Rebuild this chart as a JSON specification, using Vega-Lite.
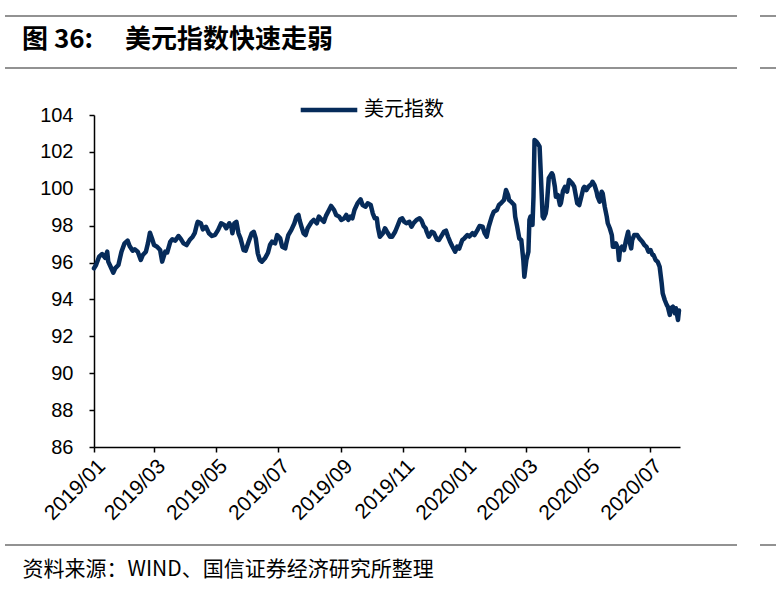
{
  "$schema": "https://vega.github.io/schema/vega-lite/v6.json",
  "width": 586,
  "height": 332,
  "autosize": {"type": "none"},
  "padding": {"left": 94, "top": 115, "right": 96, "bottom": 148},
  "background": "white",
  "config": {"view": {"stroke": null}, "font": "Liberation Sans"},
  "title": {
    "text": "图 36:　 美元指数快速走弱",
    "anchor": "start",
    "frame": "group",
    "font": "Noto Sans CJK SC",
    "fontSize": 26,
    "fontWeight": "bold",
    "color": "#000000",
    "dx": -72,
    "offset": 0,
    "dy": 59,
    "baseline": "alphabetic"
  },
  "data": {"values": [
    {"date":"2019/01/01","value":95.69},{"date":"2019/01/03","value":95.87},{"date":"2019/01/06","value":96.32},{"date":"2019/01/09","value":96.46},{"date":"2019/01/12","value":96.25},{"date":"2019/01/14","value":96.59},{"date":"2019/01/15","value":96.05},{"date":"2019/01/17","value":95.81},{"date":"2019/01/20","value":95.45},{"date":"2019/01/22","value":95.70},{"date":"2019/01/25","value":95.87},{"date":"2019/01/28","value":96.59},{"date":"2019/01/31","value":97.04},
    {"date":"2019/02/03","value":97.19},{"date":"2019/02/05","value":96.90},{"date":"2019/02/08","value":96.64},{"date":"2019/02/10","value":96.72},{"date":"2019/02/13","value":96.59},{"date":"2019/02/16","value":96.14},{"date":"2019/02/18","value":96.41},{"date":"2019/02/21","value":96.59},{"date":"2019/02/23","value":97.04},{"date":"2019/02/25","value":97.62},{"date":"2019/02/27","value":97.31},
    {"date":"2019/03/01","value":96.95},{"date":"2019/03/04","value":96.86},{"date":"2019/03/07","value":96.68},{"date":"2019/03/09","value":96.05},{"date":"2019/03/12","value":96.59},{"date":"2019/03/14","value":96.55},{"date":"2019/03/17","value":97.13},{"date":"2019/03/19","value":97.26},{"date":"2019/03/22","value":97.19},{"date":"2019/03/25","value":97.44},{"date":"2019/03/27","value":97.31},{"date":"2019/03/30","value":97.04},
    {"date":"2019/04/02","value":96.95},{"date":"2019/04/05","value":97.22},{"date":"2019/04/08","value":97.40},{"date":"2019/04/10","value":97.59},{"date":"2019/04/12","value":98.04},{"date":"2019/04/13","value":98.21},{"date":"2019/04/16","value":98.13},{"date":"2019/04/18","value":97.80},{"date":"2019/04/21","value":97.94},{"date":"2019/04/24","value":97.59},{"date":"2019/04/27","value":97.44},{"date":"2019/04/30","value":97.50},
    {"date":"2019/05/03","value":97.77},{"date":"2019/05/06","value":98.13},{"date":"2019/05/09","value":98.04},{"date":"2019/05/11","value":97.86},{"date":"2019/05/14","value":98.13},{"date":"2019/05/16","value":97.94},{"date":"2019/05/17","value":97.59},{"date":"2019/05/19","value":98.13},{"date":"2019/05/21","value":98.21},{"date":"2019/05/23","value":97.59},{"date":"2019/05/25","value":97.31},{"date":"2019/05/28","value":96.68},{"date":"2019/05/30","value":96.64},
    {"date":"2019/06/02","value":97.13},{"date":"2019/06/05","value":97.59},{"date":"2019/06/07","value":97.67},{"date":"2019/06/09","value":97.31},{"date":"2019/06/11","value":96.50},{"date":"2019/06/13","value":96.14},{"date":"2019/06/15","value":96.05},{"date":"2019/06/18","value":96.23},{"date":"2019/06/21","value":96.53},{"date":"2019/06/23","value":96.95},{"date":"2019/06/25","value":97.13},{"date":"2019/06/28","value":97.04},{"date":"2019/06/30","value":97.49},
    {"date":"2019/07/03","value":97.31},{"date":"2019/07/05","value":96.86},{"date":"2019/07/08","value":96.77},{"date":"2019/07/09","value":97.04},{"date":"2019/07/11","value":97.49},{"date":"2019/07/14","value":97.77},{"date":"2019/07/17","value":98.13},{"date":"2019/07/19","value":98.49},{"date":"2019/07/21","value":98.58},{"date":"2019/07/22","value":98.31},{"date":"2019/07/24","value":97.94},{"date":"2019/07/26","value":97.59},{"date":"2019/07/28","value":97.49},{"date":"2019/07/30","value":97.86},
    {"date":"2019/08/03","value":98.21},{"date":"2019/08/05","value":98.31},{"date":"2019/08/08","value":98.13},{"date":"2019/08/10","value":98.49},{"date":"2019/08/13","value":98.31},{"date":"2019/08/15","value":98.21},{"date":"2019/08/17","value":98.53},{"date":"2019/08/20","value":98.85},{"date":"2019/08/22","value":99.07},{"date":"2019/08/25","value":98.85},{"date":"2019/08/27","value":98.58},{"date":"2019/08/30","value":98.49},
    {"date":"2019/09/01","value":98.31},{"date":"2019/09/04","value":98.40},{"date":"2019/09/06","value":98.58},{"date":"2019/09/08","value":98.31},{"date":"2019/09/10","value":98.49},{"date":"2019/09/12","value":98.40},{"date":"2019/09/14","value":98.85},{"date":"2019/09/17","value":99.21},{"date":"2019/09/20","value":99.43},{"date":"2019/09/22","value":99.12},{"date":"2019/09/25","value":99.03},{"date":"2019/09/27","value":99.21},{"date":"2019/09/30","value":99.12},
    {"date":"2019/10/02","value":98.67},{"date":"2019/10/04","value":98.40},{"date":"2019/10/06","value":98.40},{"date":"2019/10/07","value":97.94},{"date":"2019/10/09","value":97.40},{"date":"2019/10/12","value":97.59},{"date":"2019/10/14","value":97.86},{"date":"2019/10/16","value":97.67},{"date":"2019/10/19","value":97.40},{"date":"2019/10/21","value":97.40},{"date":"2019/10/24","value":97.67},{"date":"2019/10/26","value":97.94},{"date":"2019/10/29","value":98.35},{"date":"2019/10/31","value":98.40},
    {"date":"2019/11/02","value":98.21},{"date":"2019/11/04","value":98.13},{"date":"2019/11/07","value":98.21},{"date":"2019/11/09","value":97.94},{"date":"2019/11/11","value":98.13},{"date":"2019/11/14","value":98.31},{"date":"2019/11/17","value":98.40},{"date":"2019/11/19","value":98.27},{"date":"2019/11/21","value":97.98},{"date":"2019/11/23","value":97.86},{"date":"2019/11/24","value":97.67},{"date":"2019/11/26","value":97.40},{"date":"2019/11/29","value":97.67},
    {"date":"2019/12/01","value":97.62},{"date":"2019/12/04","value":97.26},{"date":"2019/12/06","value":97.22},{"date":"2019/12/09","value":97.49},{"date":"2019/12/11","value":97.67},{"date":"2019/12/13","value":97.73},{"date":"2019/12/15","value":97.40},{"date":"2019/12/17","value":97.13},{"date":"2019/12/19","value":96.90},{"date":"2019/12/22","value":96.59},{"date":"2019/12/24","value":96.86},{"date":"2019/12/26","value":96.76},{"date":"2019/12/29","value":97.22},{"date":"2019/12/31","value":97.31},
    {"date":"2020/01/03","value":97.49},{"date":"2020/01/05","value":97.41},{"date":"2020/01/08","value":97.59},{"date":"2020/01/10","value":97.49},{"date":"2020/01/13","value":97.77},{"date":"2020/01/15","value":97.98},{"date":"2020/01/18","value":97.94},{"date":"2020/01/20","value":97.59},{"date":"2020/01/22","value":97.40},{"date":"2020/01/24","value":97.94},{"date":"2020/01/27","value":98.49},{"date":"2020/01/29","value":98.76},
    {"date":"2020/02/01","value":98.85},{"date":"2020/02/03","value":99.12},{"date":"2020/02/05","value":99.21},{"date":"2020/02/08","value":99.39},{"date":"2020/02/10","value":99.93},{"date":"2020/02/12","value":99.66},{"date":"2020/02/13","value":99.39},{"date":"2020/02/15","value":99.30},{"date":"2020/02/18","value":99.12},{"date":"2020/02/19","value":98.49},{"date":"2020/02/21","value":97.94},{"date":"2020/02/23","value":97.31},{"date":"2020/02/25","value":97.22},{"date":"2020/02/27","value":96.14},{"date":"2020/02/28","value":95.23},
    {"date":"2020/03/01","value":96.14},{"date":"2020/03/03","value":96.59},{"date":"2020/03/04","value":98.31},{"date":"2020/03/05","value":98.49},{"date":"2020/03/07","value":98.04},{"date":"2020/03/08","value":99.57},{"date":"2020/03/09","value":102.64},{"date":"2020/03/11","value":102.55},{"date":"2020/03/12","value":102.47},{"date":"2020/03/14","value":102.28},{"date":"2020/03/15","value":101.02},{"date":"2020/03/17","value":98.49},{"date":"2020/03/18","value":98.40},{"date":"2020/03/20","value":98.67},{"date":"2020/03/21","value":99.03},{"date":"2020/03/23","value":100.57},{"date":"2020/03/26","value":100.84},{"date":"2020/03/27","value":100.75},{"date":"2020/03/29","value":100.11},{"date":"2020/03/30","value":99.57},
    {"date":"2020/04/01","value":99.66},{"date":"2020/04/03","value":99.12},{"date":"2020/04/04","value":99.23},{"date":"2020/04/06","value":99.88},{"date":"2020/04/08","value":100.11},{"date":"2020/04/10","value":99.84},{"date":"2020/04/12","value":100.48},{"date":"2020/04/15","value":100.30},{"date":"2020/04/17","value":100.11},{"date":"2020/04/20","value":99.21},{"date":"2020/04/22","value":99.12},{"date":"2020/04/24","value":99.57},{"date":"2020/04/26","value":100.03},{"date":"2020/04/27","value":100.11},{"date":"2020/04/29","value":99.93},
    {"date":"2020/05/01","value":100.11},{"date":"2020/05/04","value":100.26},{"date":"2020/05/05","value":100.38},{"date":"2020/05/07","value":100.20},{"date":"2020/05/09","value":99.84},{"date":"2020/05/10","value":99.57},{"date":"2020/05/12","value":99.30},{"date":"2020/05/14","value":99.84},{"date":"2020/05/15","value":99.75},{"date":"2020/05/17","value":99.03},{"date":"2020/05/19","value":98.49},{"date":"2020/05/20","value":98.13},{"date":"2020/05/22","value":97.86},{"date":"2020/05/24","value":97.49},{"date":"2020/05/25","value":96.86},{"date":"2020/05/27","value":96.86},{"date":"2020/05/28","value":97.04},{"date":"2020/05/30","value":96.77},{"date":"2020/05/31","value":96.14},
    {"date":"2020/06/01","value":96.68},{"date":"2020/06/03","value":96.86},{"date":"2020/06/05","value":96.68},{"date":"2020/06/07","value":97.22},{"date":"2020/06/09","value":97.67},{"date":"2020/06/10","value":97.22},{"date":"2020/06/12","value":96.77},{"date":"2020/06/13","value":97.22},{"date":"2020/06/15","value":97.49},{"date":"2020/06/18","value":97.49},{"date":"2020/06/20","value":97.31},{"date":"2020/06/23","value":97.13},{"date":"2020/06/25","value":96.95},{"date":"2020/06/27","value":96.86},{"date":"2020/06/29","value":96.59},
    {"date":"2020/07/01","value":96.68},{"date":"2020/07/03","value":96.41},{"date":"2020/07/04","value":96.41},{"date":"2020/07/06","value":96.14},{"date":"2020/07/08","value":96.05},{"date":"2020/07/10","value":95.77},{"date":"2020/07/12","value":94.87},{"date":"2020/07/13","value":94.33},{"date":"2020/07/15","value":93.97},{"date":"2020/07/17","value":93.70},{"date":"2020/07/18","value":93.61},{"date":"2020/07/20","value":93.16},{"date":"2020/07/21","value":93.52},{"date":"2020/07/23","value":93.61},{"date":"2020/07/25","value":93.25},{"date":"2020/07/26","value":93.52},{"date":"2020/07/28","value":92.89},{"date":"2020/07/29","value":93.40}
  ]},
  "layer": [
    {
      "mark": {"type": "line", "strokeWidth": 4.5, "strokeJoin": "round", "strokeCap": "round", "clip": false},
      "encoding": {
        "x": {
          "field": "date", "type": "temporal",
          "scale": {"domain": ["2019/01/01", "2020/07/30"], "nice": false},
          "axis": {
            "tickCount": {"interval": "month", "step": 2},
            "format": "%Y/%m",
            "labelAngle": -45,
            "labelFont": "Liberation Sans",
            "labelFontSize": 21,
            "labelColor": "#000000",
            "labelPadding": 3,
            "labelOverlap": false,
            "grid": false,
            "domainColor": "#000000",
            "domainWidth": 1.5,
            "tickColor": "#000000",
            "tickWidth": 1.5,
            "tickSize": 5,
            "title": "资料来源：WIND、国信证券经济研究所整理",
            "titleFont": "Noto Sans CJK SC",
            "titleFontSize": 21,
            "titleFontWeight": "normal",
            "titleColor": "#000000",
            "titleAlign": "left",
            "titleAnchor": "start",
            "titleBaseline": "middle",
            "titleX": -72,
            "titleY": 122
          }
        },
        "y": {
          "field": "value", "type": "quantitative",
          "scale": {"domain": [86, 104], "nice": false, "zero": false},
          "axis": {
            "values": [86, 88, 90, 92, 94, 96, 98, 100, 102, 104],
            "labelFont": "Liberation Sans",
            "labelFontSize": 20,
            "labelColor": "#000000",
            "labelPadding": 16,
            "grid": false,
            "domainColor": "#000000",
            "domainWidth": 1.5,
            "tickColor": "#000000",
            "tickWidth": 1.5,
            "tickSize": 5,
            "title": null
          }
        },
        "color": {
          "datum": "美元指数", "type": "nominal",
          "scale": {"range": ["#062b5a"]},
          "legend": {
            "orient": "none",
            "legendX": 204,
            "legendY": -36,
            "title": null,
            "padding": 0,
            "symbolType": "stroke",
            "symbolSize": 3200,
            "symbolStrokeWidth": 4.5,
            "labelFont": "Noto Sans CJK SC",
            "labelFontSize": 20,
            "labelColor": "#000000",
            "labelOffset": 4
          }
        }
      }
    },
    {"data": {"values": [{}]}, "mark": {"type": "rule", "stroke": "#6e6e6e", "strokeWidth": 1.5}, "encoding": {"x": {"value": -89}, "x2": {"value": 643}, "y": {"value": -99}}},
    {"data": {"values": [{}]}, "mark": {"type": "rule", "stroke": "#6e6e6e", "strokeWidth": 1.5}, "encoding": {"x": {"value": -89}, "x2": {"value": 643}, "y": {"value": -47}}},
    {"data": {"values": [{}]}, "mark": {"type": "rule", "stroke": "#6e6e6e", "strokeWidth": 1.5}, "encoding": {"x": {"value": -89}, "x2": {"value": 643}, "y": {"value": 430}}},
    {"data": {"values": [{}]}, "mark": {"type": "rule", "stroke": "#6e6e6e", "strokeWidth": 1.5}, "encoding": {"x": {"value": 666}, "x2": {"value": 682}, "y": {"value": -99}}},
    {"data": {"values": [{}]}, "mark": {"type": "rule", "stroke": "#6e6e6e", "strokeWidth": 1.5}, "encoding": {"x": {"value": 666}, "x2": {"value": 682}, "y": {"value": -47}}},
    {"data": {"values": [{}]}, "mark": {"type": "rule", "stroke": "#6e6e6e", "strokeWidth": 1.5}, "encoding": {"x": {"value": 666}, "x2": {"value": 682}, "y": {"value": 430}}}
  ]
}
